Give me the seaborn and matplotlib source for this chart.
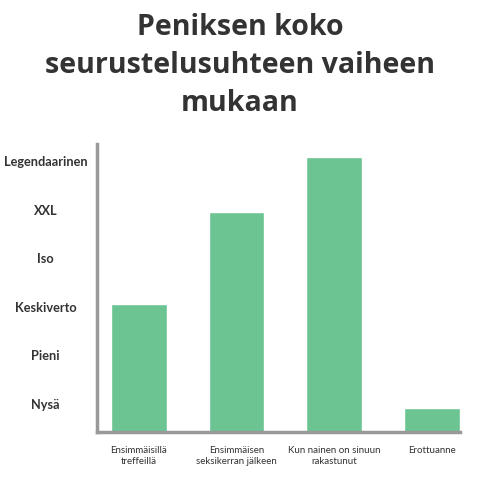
import matplotlib
matplotlib.use("Agg")
import matplotlib.pyplot as plt
import seaborn as sns
import pandas as pd

# Data
vaiheet = ["Ensimmäisillä\ntreffeillä", "Ensimmäisen\nseksikerran jälkeen",
           "Kun nainen on sinuun\nrakastunut", "Erottuanne"]
koko = [3.05, 4.95, 6.1, 0.92]
tasot = ["Nysä", "Pieni", "Keskiverto", "Iso", "XXL", "Legendaarinen"]
taso_arvot = [1, 2, 3, 4, 5, 6]

VIHREA = "#6bc492"
HARMAA = "#999999"
TEKSTI = "#333333"

sns.set_theme(style="white")
plt.rcParams["font.family"] = ["Lato", "DejaVu Sans"]

df = pd.DataFrame({"vaihe": vaiheet, "koko": koko})

fig = plt.figure(figsize=(4.8, 4.8), dpi=100)
ax = fig.add_axes([97 / 480, 48 / 480, 363 / 480, 288 / 480])

sns.barplot(data=df, x="vaihe", y="koko", color=VIHREA, saturation=1,
            width=0.57, ax=ax)

ax.set_xlim(-0.43, 3.29)
ax.set_ylim(0.42, 6.36)
ax.set_yticks(taso_arvot)
ax.set_yticklabels(tasot, fontsize=9.2, fontweight="bold", color=TEKSTI, ha="center")
ax.tick_params(axis="y", length=0, pad=37)
ax.tick_params(axis="x", length=7, width=2, color=VIHREA, direction="out",
               labelsize=7, labelcolor=TEKSTI, pad=3)
for lbl in ax.get_xticklabels():
    lbl.set_linespacing(1.25)

ax.set_xlabel("")
ax.set_ylabel("")
for s in ["top", "right"]:
    ax.spines[s].set_visible(False)
for s in ["left", "bottom"]:
    ax.spines[s].set_color(HARMAA)
    ax.spines[s].set_linewidth(2.5)

fig.text(0.5, 0.863, "Peniksen koko\nseurustelusuhteen vaiheen\nmukaan",
         ha="center", va="center", fontsize=20.5, fontweight="bold",
         family=["Open Sans", "DejaVu Sans"], color=TEKSTI, linespacing=1.4)

fig.savefig("out.png", dpi=100)
